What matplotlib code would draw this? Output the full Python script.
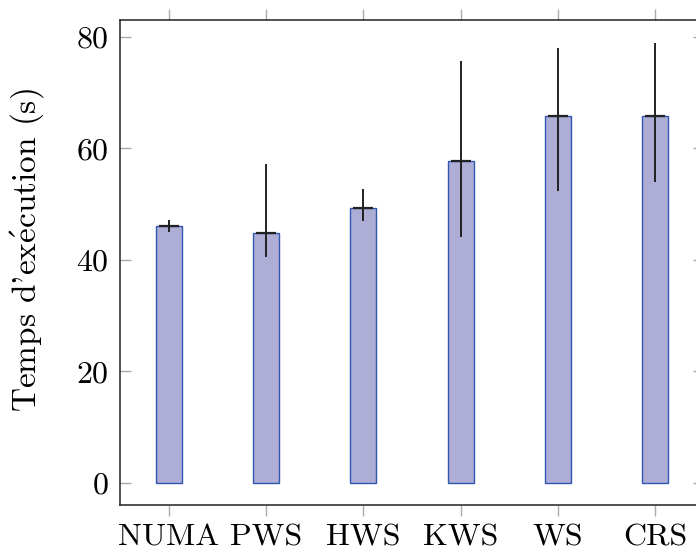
import matplotlib
matplotlib.use("Agg")
import matplotlib.pyplot as plt
import numpy as np

categories = ["NUMA", "PWS", "HWS", "KWS", "WS", "CRS"]
means = [46.1, 44.8, 49.3, 57.7, 65.8, 65.9]
err_low = [45.1, 40.6, 47.0, 44.1, 52.4, 54.0]
err_high = [47.2, 57.2, 52.7, 75.7, 78.0, 79.0]
yticks = [0, 20, 40, 60, 80]

plt.rcParams['font.family'] = ['cmr10', 'DejaVu Serif']
plt.rcParams['axes.formatter.use_mathtext'] = True
plt.rcParams['mathtext.fontset'] = 'cm'
plt.rcParams['mathtext.rm'] = 'cmr10'

fig = plt.figure(figsize=(6.96, 5.53), dpi=100)
ax = fig.add_axes([120/696, 48/553, 584/696, 485/553])

x = np.arange(len(categories))
m = np.array(means)
lo = m - np.array(err_low)
hi = np.array(err_high) - m

ax.bar(x, m, width=0.27, color="#adadd6", edgecolor="#3056b0", linewidth=1.0, zorder=2)
ax.errorbar(x, m, yerr=[lo, hi], fmt='none', ecolor="#222222", elinewidth=1.4, capsize=0, zorder=3)
ax.plot(x, m, linestyle='none', marker='_', markersize=15, markeredgewidth=1.6, color="#222222", zorder=4)

ax.set_xlim(-0.5, len(categories) - 0.5)
ax.set_ylim(-3.95, 83.05)
ax.set_xticks(x)
ax.set_xticklabels(categories)
ax.set_yticks(yticks)
ax.set_ylabel(r"Temps d'ex$\acute{\mathrm{e}}$cution (s)", fontsize=24, labelpad=22)
ax.yaxis.label.set_y(0.525)

ax.tick_params(axis='x', which='both', direction='out', length=8, width=1.0, color="#aaaaaa",
               top=True, bottom=True, labelsize=23, pad=6)
ax.tick_params(axis='y', which='both', direction='in', length=8, width=1.0, color="#aaaaaa",
               left=True, right=True, labelsize=23, pad=8)
for s in ax.spines.values():
    s.set_linewidth(1.1)
    s.set_color("#222222")

fig.savefig("out.png", dpi=100)
